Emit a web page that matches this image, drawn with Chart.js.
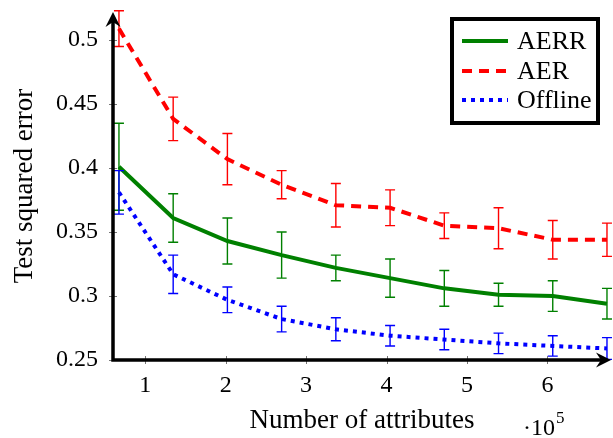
<!DOCTYPE html>
<html><head><meta charset="utf-8">
<script src="https://cdn.jsdelivr.net/npm/chart.js@4/dist/chart.umd.min.js"></script>
<style>html,body{margin:0;padding:0;background:#fff}
#wrap{width:613px;height:438px;position:relative}
#fpre{position:absolute;left:10px;top:10px;z-index:0;font-family:'Liberation Serif';font-size:24px;color:#000;white-space:nowrap}
#c{position:absolute;left:0;top:0;z-index:1;background:#fff}</style>
</head><body><div id="wrap"><div id="fpre">Number of attributes 0.45 AERR AER Offline Test squared error ·10 5</div><canvas id="c" width="613" height="438"></canvas></div>
<script>
const xValues = [0.674, 1.348, 2.022, 2.696, 3.37, 4.044, 4.718, 5.392, 6.066, 6.74];
const aerrMean = [0.401, 0.361, 0.343, 0.332, 0.322, 0.314, 0.306, 0.301, 0.300, 0.294];
const aerrErr  = [0.034, 0.019, 0.018, 0.018, 0.010, 0.015, 0.014, 0.009, 0.012, 0.012];
const aerMean  = [0.509, 0.4385, 0.407, 0.387, 0.371, 0.369, 0.355, 0.353, 0.344, 0.344];
const aerErr   = [0.014, 0.017, 0.020, 0.011, 0.017, 0.014, 0.010, 0.016, 0.015, 0.013];
const offMean  = [0.381, 0.317, 0.297, 0.282, 0.274, 0.269, 0.266, 0.263, 0.261, 0.259];
const offErr   = [0.017, 0.015, 0.010, 0.010, 0.009, 0.008, 0.008, 0.008, 0.008, 0.0085];
const xTicks = [1, 2, 3, 4, 5, 6];
const xTickLabels = ['1', '2', '3', '4', '5', '6'];
const yTicks = [0.25, 0.3, 0.35, 0.4, 0.45, 0.5];
const yTickLabels = ['0.25', '0.3', '0.35', '0.4', '0.45', '0.5'];
const seriesNames = ['AERR', 'AER', 'Offline'];
const seriesColors = ['#008000', '#ff0000', '#0000ff'];
const seriesDash = [[], [10, 7], [4, 5]];
const means = [aerrMean, aerMean, offMean];
const errs = [aerrErr, aerErr, offErr];

const FONT = "'Liberation Serif'";
void document.getElementById('fpre').offsetWidth;

const errorBars = {
  id: 'errorBars',
  afterDatasetsDraw(chart) {
    const ctx = chart.ctx, xs = chart.scales.x, ys = chart.scales.y;
    ctx.save();
    ctx.lineWidth = 1.4;
    for (let s = 0; s < 3; s++) {
      ctx.strokeStyle = seriesColors[s];
      for (let i = 0; i < xValues.length; i++) {
        const x = xs.getPixelForValue(xValues[i]);
        const y1 = ys.getPixelForValue(means[s][i] + errs[s][i]);
        const y2 = ys.getPixelForValue(means[s][i] - errs[s][i]);
        ctx.beginPath();
        ctx.moveTo(x, y1); ctx.lineTo(x, y2);
        ctx.moveTo(x - 5, y1); ctx.lineTo(x + 5, y1);
        ctx.moveTo(x - 5, y2); ctx.lineTo(x + 5, y2);
        ctx.stroke();
      }
    }
    ctx.restore();
  }
};

const axesDeco = {
  id: 'axesDeco',
  afterDraw(chart) {
    const ctx = chart.ctx, a = chart.chartArea, xs = chart.scales.x, ys = chart.scales.y;
    ctx.save();
    ctx.strokeStyle = '#777'; ctx.lineWidth = 1;
    ctx.beginPath();
    xTicks.forEach(v => { const x = Math.round(xs.getPixelForValue(v)) + 0.5; ctx.moveTo(x, a.bottom - 4); ctx.lineTo(x, a.bottom + 4); });
    yTicks.forEach(v => { const y = Math.round(ys.getPixelForValue(v)) + 0.5; ctx.moveTo(a.left - 4, y); ctx.lineTo(a.left + 4, y); });
    ctx.stroke();
    ctx.strokeStyle = '#000'; ctx.lineWidth = 3.5; ctx.lineJoin = 'miter';
    ctx.beginPath();
    ctx.moveTo(a.left, a.top + 8);
    ctx.lineTo(a.left, a.bottom);
    ctx.lineTo(a.right - 8, a.bottom);
    ctx.stroke();
    ctx.fillStyle = '#000';
    ctx.beginPath();
    ctx.moveTo(a.left, a.top);
    ctx.lineTo(a.left + 7.5, a.top + 15);
    ctx.lineTo(a.left, a.top + 10);
    ctx.lineTo(a.left - 7.5, a.top + 15);
    ctx.closePath(); ctx.fill();
    ctx.beginPath();
    ctx.moveTo(a.right, a.bottom);
    ctx.lineTo(a.right - 15, a.bottom - 7.5);
    ctx.lineTo(a.right - 10, a.bottom);
    ctx.lineTo(a.right - 15, a.bottom + 7.5);
    ctx.closePath(); ctx.fill();
    ctx.fillStyle = '#000';
    ctx.textBaseline = 'alphabetic'; ctx.textAlign = 'left';
    ctx.font = '24px ' + FONT;
    ctx.fillText('\u00b710', 523, 435);
    const w = ctx.measureText('\u00b710').width;
    ctx.font = '17px ' + FONT;
    ctx.fillText('5', 523 + w + 1, 423);
    const bx = 452, by = 19, bw = 146, bh = 104;
    ctx.fillStyle = '#fff'; ctx.fillRect(bx, by, bw, bh);
    ctx.strokeStyle = '#000'; ctx.lineWidth = 4; ctx.setLineDash([]);
    ctx.strokeRect(bx, by, bw, bh);
    const rows = [41, 71, 100];
    for (let s = 0; s < 3; s++) {
      ctx.strokeStyle = seriesColors[s]; ctx.lineWidth = 4; ctx.setLineDash(seriesDash[s]);
      ctx.beginPath(); ctx.moveTo(462, rows[s]); ctx.lineTo(508, rows[s]); ctx.stroke();
      ctx.setLineDash([]);
      ctx.fillStyle = '#000'; ctx.font = '26px ' + FONT; ctx.textBaseline = 'middle';
      ctx.fillText(seriesNames[s], 517, rows[s] + 1);
    }
    ctx.restore();
  }
};

const chart = new Chart(document.getElementById('c'), {
  type: 'line',
  data: {
    datasets: seriesNames.map((n, s) => ({
      label: n,
      data: xValues.map((x, i) => ({ x: x, y: means[s][i] })),
      borderColor: seriesColors[s],
      borderWidth: 4,
      borderDash: seriesDash[s],
      pointRadius: 0,
      tension: 0,
      fill: false,
      order: 3 - s
    }))
  },
  options: {
    responsive: false, animation: false, devicePixelRatio: 1,
    layout: { padding: { top: 12, right: 2, left: 0, bottom: 0 } },
    plugins: { legend: { display: false }, tooltip: { enabled: false } },
    scales: {
      x: {
        type: 'linear', min: 0.6, max: 6.79,
        afterBuildTicks: s => { s.ticks = xTicks.map(v => ({ value: v })); },
        afterFit: s => { s.height = 78; s.paddingLeft = 0; s.paddingRight = 0; },
        grid: { display: false, drawTicks: false },
        border: { display: false },
        ticks: { color: '#000', font: { family: FONT, size: 24 }, padding: 11, maxRotation: 0, autoSkip: false,
                 callback: (v, i) => xTickLabels[i] },
        title: { display: true, text: 'Number of attributes', color: '#000', font: { family: FONT, size: 27 }, padding: { top: 0, bottom: 1 } }
      },
      y: {
        type: 'linear', min: 0.25, max: 0.522,
        afterBuildTicks: s => { s.ticks = yTicks.map(v => ({ value: v })); },
        afterFit: s => { s.width = 113; s.paddingTop = 0; s.paddingBottom = 0; },
        grid: { display: false, drawTicks: false },
        border: { display: false },
        ticks: { color: '#000', font: { family: FONT, size: 24 }, padding: 15, autoSkip: false,
                 callback: (v, i) => yTickLabels[i] },
        title: { display: true, text: 'Test squared error', color: '#000', font: { family: FONT, size: 27 }, padding: { top: 9, bottom: 0 } }
      }
    }
  },
  plugins: [errorBars, axesDeco]
});
function redraw() { chart.update('none'); }
if (document.fonts) { document.fonts.ready.then(redraw); document.fonts.load("24px 'Liberation Serif'").then(redraw); }
window.addEventListener('load', redraw);
</script>
</body></html>
